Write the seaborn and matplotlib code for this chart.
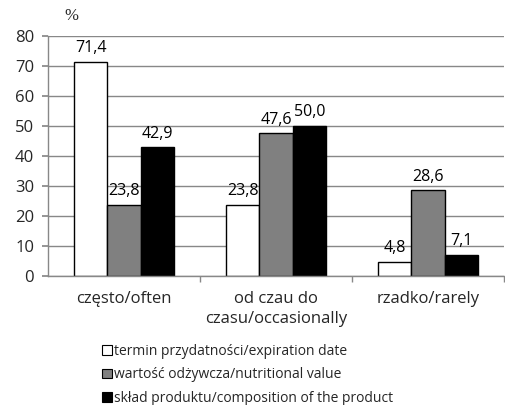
import matplotlib
matplotlib.use("Agg")
import numpy as np
import pandas as pd
import seaborn as sns
import matplotlib.pyplot as plt
from matplotlib.patches import Patch

categories = ["często/often", "od czau do\nczasu/occasionally", "rzadko/rarely"]
series = ["termin przydatności/expiration date",
          "wartość odżywcza/nutritional value",
          "skład produktu/composition of the product"]
expiration = [71.4, 23.8, 4.8]
nutritional = [23.8, 47.6, 28.6]
composition = [42.9, 50.0, 7.1]
colors = ["white", "#808080", "black"]
yticks = [0, 10, 20, 30, 40, 50, 60, 70, 80]

rows = []
for s, vals in zip(series, [expiration, nutritional, composition]):
    for c, v in zip(categories, vals):
        rows.append({"cat": c, "series": s, "value": v})
df = pd.DataFrame(rows)

sns.set_theme(style="white")
plt.rcParams["font.family"] = ["Open Sans", "DejaVu Sans"]

fig = plt.figure(figsize=(5.05, 4.05), dpi=100)
ax = fig.add_axes([48 / 505, 1 - 276 / 405, 1 - 48 / 505 - 0.002, 240 / 405])

sns.barplot(data=df, x="cat", y="value", hue="series", palette=colors,
            edgecolor="black", linewidth=1, width=0.66, ax=ax, legend=False,
            saturation=1)

for cont in ax.containers:
    ax.bar_label(cont, labels=[f"{v:.1f}".replace(".", ",") for v in cont.datavalues],
                 padding=4, fontsize=11.5, color="black")

ax.set_ylim(0, 80)
ax.set_xlim(-0.5, 2.5)
ax.set_yticks(yticks)
ax.yaxis.grid(True, color="#888888", linewidth=1)
ax.set_axisbelow(True)
ax.set_xlabel("")
ax.set_ylabel("")
for sp in ["top", "right"]:
    ax.spines[sp].set_visible(False)
for sp in ["left", "bottom"]:
    ax.spines[sp].set_color("#888888")
    ax.spines[sp].set_linewidth(1)
ax.tick_params(axis="y", length=4, color="#888888", labelsize=12, left=True, pad=6)
ax.tick_params(axis="x", which="major", length=0, labelsize=12, pad=11)
ax.set_xticks([0.5, 1.5, 2.5], minor=True)
ax.tick_params(axis="x", which="minor", length=4, color="#888888", bottom=True)
for lbl in ax.get_xticklabels():
    lbl.set_linespacing(1.35)

fig.text(64 / 505, 1 - 16 / 405, "%", family="Liberation Serif", fontsize=12,
         ha="left", va="center")

handles = [Patch(facecolor=c, edgecolor="black", linewidth=0.8) for c in colors]
fig.legend(handles, series, loc="upper left", bbox_to_anchor=(102 / 505, 1 - 344 / 405),
           frameon=False, fontsize=10, handlelength=0.7, handleheight=0.7,
           handletextpad=0.2, labelspacing=0.6, borderaxespad=0, borderpad=0)

fig.savefig("out.png", dpi=100)
